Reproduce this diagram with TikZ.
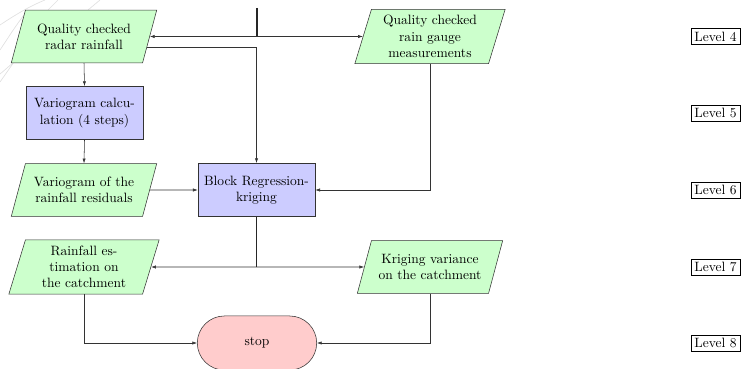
\documentclass[tikz,border=0pt]{standalone}
\usetikzlibrary{shapes.geometric,shapes.misc,arrows.meta,calc}
\begin{document}
\begin{tikzpicture}[x=0.74pt,y=-0.74pt,
 data/.style={trapezium, trapezium left angle=75, trapezium right angle=105, draw=black!80, fill=green!20, text width=80pt, align=center, inner xsep=3.33pt, inner ysep=10pt},
 data3/.style={data, trapezium left angle=73, trapezium right angle=107, inner ysep=4.5pt},
 proc/.style={rectangle, draw=black!80, fill=blue!20, text width=78pt, align=center, minimum width=86.6pt, minimum height=39.5pt, inner sep=3.33pt},
 term/.style={rounded rectangle, draw=black!80, fill=red!20, minimum width=95pt, minimum height=40pt},
 lvl/.style={draw, inner sep=2.5pt},
 conn/.style={draw=black!80, -{Latex[length=3.5pt,width=2.4pt]}},
 bothconn/.style={draw=black!80, {Latex[length=3.5pt,width=2.4pt]}-{Latex[length=3.5pt,width=2.4pt]}},
 trunk/.style={draw=black!85, line width=0.9pt},
 bgline/.style={draw=black!12, line width=0.5pt}]
\useasboundingbox (0,0) rectangle (742,369);
% faint background curves
\draw[bgline] (0,25) .. controls (15,15) and (30,6) .. (45,0);
\draw[bgline] (0,50) .. controls (10,35) and (18,22) .. (28,10);
\draw[bgline] (0,82) -- (14,62);
\draw[bgline] (0,74) .. controls (5,70) and (9,66) .. (13,63);
\draw[bgline] (88,10) -- (100,0);
\draw[bgline] (48,10) -- (58,0);
% nodes
\node[data] (radar) at (84,36.5) {Quality checked\\radar rainfall};
\node[data3] (gauge) at (430,36.5) {Quality checked\\rain gauge\\measurements};
\node[proc] (varcalc) at (84.5,113) {Variogram calcu-\\lation (4 steps)};
\node[data] (varres) at (84,190) {Variogram of the\\rainfall residuals};
\node[proc] (block) at (256.5,190) {Block Regression-\\kriging};
\node[data3] (rainest) at (84,267) {Rainfall es-\\timation on\\the catchment};
\node[data] (krig) at (430,267) {Kriging variance\\on the catchment};
\node[term] (stop) at (257,343) {stop};
\node[lvl] (l4) at (715.5,36.5) {Level 4};
\node[lvl] (l5) at (715.5,113) {Level 5};
\node[lvl] (l6) at (715.5,190) {Level 6};
\node[lvl] (l7) at (715.5,267) {Level 7};
\node[lvl] (l8) at (715.5,343) {Level 8};
% connectors
\coordinate (top) at (257,8);
\draw[trunk] (top) -- (top |- radar.east);
\draw[bothconn] (radar.east) -- (gauge.west);
\coordinate (radarlow) at ($(radar.east)+(-2.8,10.5)$);
\draw[conn] (radarlow) -| (block.north);
\draw[conn] (radar.south) -- (varcalc.north);
\draw[conn] (varcalc.south) -- (varres.north);
\draw[conn] (varres.east) -- (block.west);
\draw[conn] (gauge.south) |- (block.east);
\coordinate (br) at (block.south |- rainest.east);
\draw[trunk] (block.south) -- (br);
\draw[bothconn] (rainest.east) -- (krig.west);
\draw[conn] (rainest.south) |- (stop.west);
\draw[conn] (krig.south) |- (stop.east);
\end{tikzpicture}
\end{document}
